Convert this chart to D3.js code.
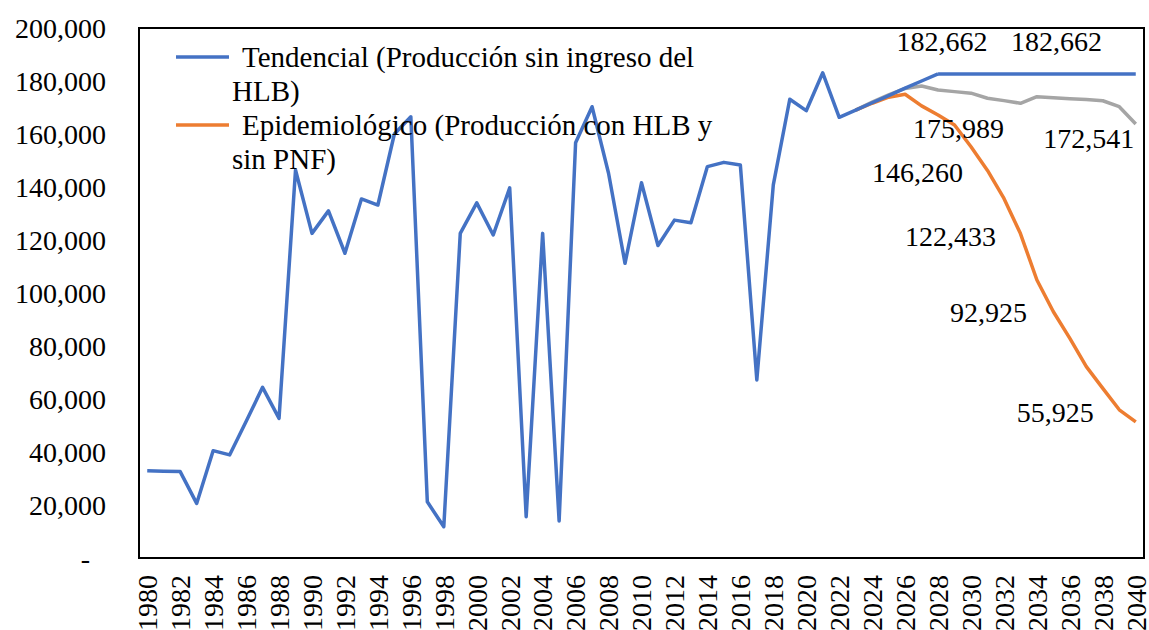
<!DOCTYPE html>
<html>
<head>
<meta charset="utf-8">
<script src="https://cdn.jsdelivr.net/npm/d3@7"></script>
<style>
  body { margin: 0; background: #fff; }
  text { font-family: "Liberation Serif", "Times New Roman", serif; fill: #000; }
</style>
</head>
<body>
<script>
// data
const years = d3.range(1980, 2041);
const tendencial = [
  32900, 32700, 32600, 20600, 40500, 38900, 51500, 64400, 52700, 146400,
  122500, 131000, 115000, 135500, 133200, 160000, 166500, 21200, 11800, 122500,
  134000, 121900, 139700, 15600, 122500, 14000, 156700, 170300, 145200, 111200,
  141600, 117900, 127500, 126500, 147700, 149300, 148300, 67200, 140800, 173100,
  168800, 183100, 166300, 169000, 171800, 174500, 177300, 180000, 182662, 182662,
  182662, 182662, 182662, 182662, 182662, 182662, 182662, 182662, 182662, 182662,
  182662
];
const proj_years = d3.range(2023, 2041);
const epidemiologico = [
  169000, 171600, 173900, 175000, 170600, 167200, 163400, 155200, 146260, 135700,
  122433, 104900, 92925, 82900, 72200, 64000, 55925, 51400
];
const gris = [
  169000, 172000, 174800, 177200, 178100, 176600, 175989, 175400, 173500, 172600,
  171600, 174100, 173700, 173300, 173000, 172541, 170300, 163800
];
const y_ticks = [0, 20000, 40000, 60000, 80000, 100000, 120000, 140000, 160000, 180000, 200000];
const x_ticks = d3.range(1980, 2041, 2);
const legend_names = [
  ["Tendencial (Producción sin ingreso del", "HLB)"],
  ["Epidemiológico (Producción con HLB y", "sin PNF)"]
];
// data labels: series, year, text
const data_labels = [
  {s: "t", year: 2028, text: "182,662"},
  {s: "t", year: 2035, text: "182,662"},
  {s: "g", year: 2029, text: "175,989"},
  {s: "g", year: 2038, text: "172,541"},
  {s: "e", year: 2031, text: "146,260"},
  {s: "e", year: 2033, text: "122,433"},
  {s: "e", year: 2035, text: "92,925"},
  {s: "e", year: 2039, text: "55,925"}
];
// label offsets (px) from the point
const label_offsets = [[4, -33], [3, -33], [4, 37], [-14, 37], [-70, 2], [-70, 3], [-65, 0], [-64, 2]];

const W = 1149, H = 630;
const plot = {left: 139, right: 1144, top: 28, bottom: 558};
const c_blue = "#4472C4", c_orange = "#ED7D31", c_gray = "#A5A5A5";
const font_size = 28;

const svg = d3.select("body").append("svg")
  .attr("width", W).attr("height", H);

const x = d3.scalePoint().domain(years).range([plot.left, plot.right]).padding(0.5);
const y = d3.scaleLinear().domain([0, 200000]).range([plot.bottom, plot.top]);

// y labels
const fmt = d3.format(",");
svg.append("g").selectAll("text")
  .data(y_ticks).enter().append("text")
  .attr("x", d => d == 0 ? 90 : 106)
  .attr("y", d => y(d))
  .attr("dy", "0.35em")
  .attr("text-anchor", "end")
  .style("font-size", font_size + "px")
  .text(d => d == 0 ? "-" : fmt(d));

// x labels, rotated
svg.append("g").selectAll("text")
  .data(x_ticks).enter().append("text")
  .attr("transform", d => `translate(${x(d)},575) rotate(-90)`)
  .attr("dy", "0.35em")
  .attr("text-anchor", "end")
  .style("font-size", font_size + "px")
  .text(d => d);

// series
const line = d3.line().x(d => x(d[0])).y(d => y(d[1]));
function draw(yrs, vals, color) {
  svg.append("path")
    .datum(yrs.map((yr, i) => [yr, vals[i]]))
    .attr("d", line)
    .attr("fill", "none")
    .attr("stroke", color)
    .attr("stroke-width", 3.5)
    .attr("stroke-linejoin", "round");
}
draw(proj_years, gris, c_gray);
draw(proj_years, epidemiologico, c_orange);
draw(years.filter(yr => yr <= 2028), tendencial.slice(0, 49), c_blue);
draw(years.filter(yr => yr >= 2028), tendencial.slice(48), c_blue);

// plot border
svg.append("rect")
  .attr("x", plot.left).attr("y", plot.top)
  .attr("width", plot.right - plot.left).attr("height", plot.bottom - plot.top)
  .attr("fill", "none").attr("stroke", "#000").attr("stroke-width", 2);

// data labels
function value_of(s, yr) {
  if (s == "t") return tendencial[years.indexOf(yr)];
  if (s == "e") return epidemiologico[proj_years.indexOf(yr)];
  return gris[proj_years.indexOf(yr)];
}
svg.append("g").selectAll("text")
  .data(data_labels).enter().append("text")
  .attr("x", (d, i) => x(d.year) + label_offsets[i][0])
  .attr("y", (d, i) => y(value_of(d.s, d.year)) + label_offsets[i][1])
  .attr("dy", "0.35em")
  .attr("text-anchor", "middle")
  .style("font-size", font_size + "px")
  .text(d => d.text);

// legend
const legend = svg.append("g");
[c_blue, c_orange].forEach(function(col, i) {
  const ly = 57 + i * 68;
  legend.append("line")
    .attr("x1", 176).attr("x2", 229).attr("y1", ly).attr("y2", ly)
    .attr("stroke", col).attr("stroke-width", 3.5);
  legend_names[i].forEach(function(t, j) {
    legend.append("text")
      .attr("x", j == 0 ? 242 : 232)
      .attr("y", ly + j * 34)
      .attr("dy", "0.35em")
      .style("font-size", "29px")
      .text(t);
  });
});
</script>
</body>
</html>
